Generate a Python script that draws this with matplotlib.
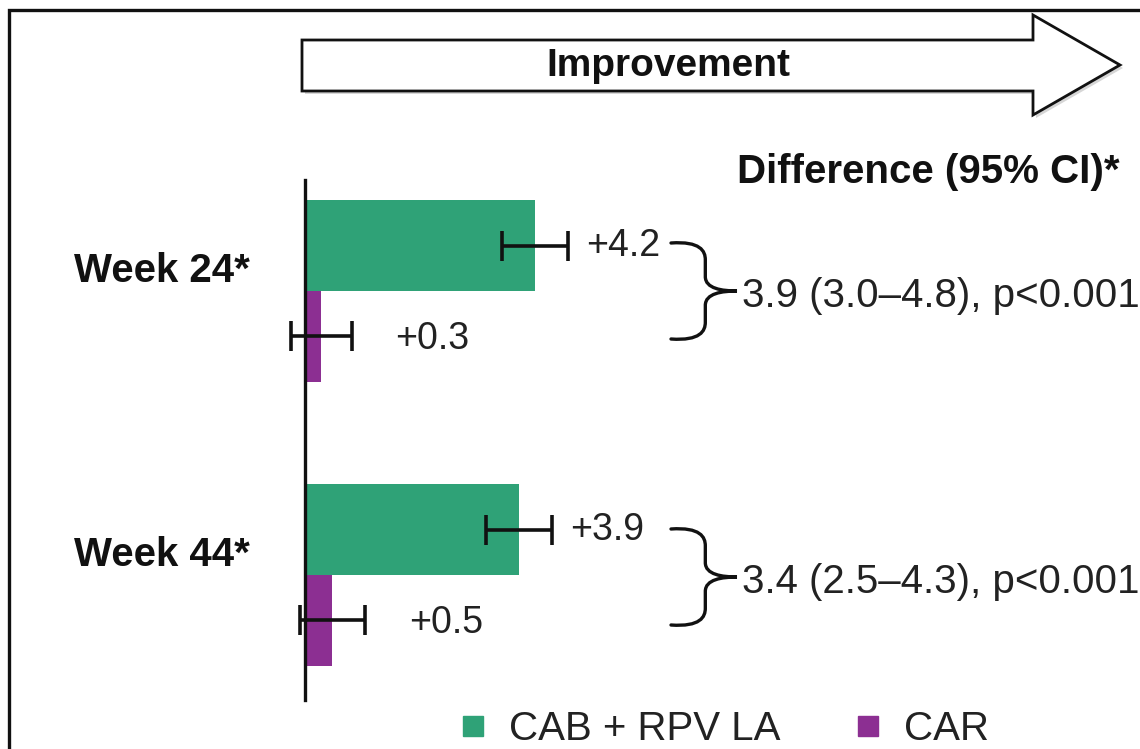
import matplotlib.pyplot as plt
from matplotlib.path import Path
from matplotlib.patches import PathPatch, Polygon
from matplotlib.lines import Line2D

# data
weeks = ["Week 24*", "Week 44*"]
cab_rpv = [4.2, 3.9]
cab_rpv_err = [0.6, 0.6]
car = [0.3, 0.5]
car_err = [0.55, 0.6]
diff = [3.9, 3.4]
diff_lo = [3.0, 2.5]
diff_hi = [4.8, 4.3]
p_text = ["p<0.001", "p<0.001"]
series_names = ["CAB + RPV LA", "CAR"]

GREEN = "#2fa277"
PURPLE = "#8c2f92"

W, H = 1140, 749
plt.rcParams['font.family'] = ['Liberation Sans', 'DejaVu Sans']
fig = plt.figure(figsize=(W / 100, H / 100), dpi=100)

# main bar axes: x=0 sits at pixel 305, 54.8 px per unit
zero_px, ppu = 305, 54.8
ax = fig.add_axes([0, 1 - 700 / H, 1, 520 / H])
ax.set_xlim(-zero_px / ppu, (W - zero_px) / ppu)
ax.set_ylim(1 + 125 / 284, -111 / 284)

ys = list(range(len(weeks)))
off, h = 0.16, 0.32
err_style = dict(ecolor="#111111", elinewidth=2.6, capsize=11, capthick=2.6)
ax.barh([y - off for y in ys], cab_rpv, height=h, color=GREEN,
        xerr=cab_rpv_err, error_kw=err_style)
ax.barh([y + off for y in ys], car, height=h, color=PURPLE,
        xerr=car_err, error_kw=err_style)

for y, v, e in zip(ys, cab_rpv, cab_rpv_err):
    ax.text(v + e + 0.33, y - off, f"+{v}", va="center", ha="left",
            fontsize=27, color="#222222")
for y, v, e in zip(ys, car, car_err):
    ax.text(v + e + 0.8, y + off + 0.01, f"+{v}", va="center", ha="left",
            fontsize=27, color="#222222")
for y, name in zip(ys, weeks):
    ax.text(-1.0, y - 0.07, name, va="center", ha="right",
            fontsize=29, fontweight="bold", color="#111111")

for s in ["top", "right", "bottom"]:
    ax.spines[s].set_visible(False)
ax.spines["left"].set_position(("data", 0))
ax.spines["left"].set_linewidth(2.4)
ax.spines["left"].set_color("#111111")
ax.set_xticks([])
ax.set_yticks([])
ax.patch.set_alpha(0)

# overlay in pixel coords for arrow, braces, frame
ov = fig.add_axes([0, 0, 1, 1])
ov.set_xlim(0, W)
ov.set_ylim(H, 0)
ov.axis("off")
ov.patch.set_alpha(0)

# frame (only top and left visible in the crop)
ov.plot([9, 9, W + 5], [H + 5, 10, 10], color="#111111", lw=2.4,
        solid_joinstyle="miter")

# block arrow
arrow_pts = [(302, 40), (1033, 40), (1033, 15), (1120, 65),
             (1033, 115), (1033, 91), (302, 91)]
shadow = Polygon([(x + 3, y + 3) for x, y in arrow_pts], closed=True,
                 facecolor="#bbbbbb", edgecolor="none", alpha=0.6)
ov.add_patch(shadow)
ov.add_patch(Polygon(arrow_pts, closed=True, facecolor="white",
                     edgecolor="#111111", lw=2.0))
ov.text(668, 66, "Improvement", ha="center", va="center", fontsize=28,
        fontweight="bold", color="#111111")

ov.text(928, 172, "Difference (95% CI)*", ha="center", va="center",
        fontsize=29, fontweight="bold", color="#111111")


def brace(x0, x1, yc, half):
    xm = x0 + 0.52 * (x1 - x0)
    t, b = yc - half, yc + half
    verts = [
        (x0, t),
        (xm - 5, t - 2), (xm, t + 8), (xm, t + 0.35 * half),
        (xm, yc - 0.3 * half),
        (xm, yc - 0.05 * half), (x1 - 15, yc), (x1, yc),
        (x1 - 15, yc), (xm, yc + 0.05 * half), (xm, yc + 0.3 * half),
        (xm, b - 0.35 * half),
        (xm, b - 8), (xm - 5, b + 2), (x0, b),
    ]
    codes = [Path.MOVETO,
             Path.CURVE4, Path.CURVE4, Path.CURVE4,
             Path.LINETO,
             Path.CURVE4, Path.CURVE4, Path.CURVE4,
             Path.CURVE4, Path.CURVE4, Path.CURVE4,
             Path.LINETO,
             Path.CURVE4, Path.CURVE4, Path.CURVE4]
    ov.add_patch(PathPatch(Path(verts, codes), facecolor="none",
                           edgecolor="#111111", lw=2.4, capstyle="round"))


group_px = [291, 577]
for yc, d, lo, hi, p in zip(group_px, diff, diff_lo, diff_hi, p_text):
    brace(671, 737, yc, 48)
    ov.text(742, yc + 5, f"{d} ({lo}\u2013{hi}), {p}", ha="left",
            va="center", fontsize=29, color="#222222")

handles = [Line2D([], [], ls="none", marker="s", markersize=14,
                  color=GREEN),
           Line2D([], [], ls="none", marker="s", markersize=14,
                  color=PURPLE)]
fig.legend(handles, series_names, loc="center",
           bbox_to_anchor=(726 / W, 1 - 729 / H), ncol=2, frameon=False,
           fontsize=29, handlelength=0.5, handletextpad=0.65,
           columnspacing=1.9, labelcolor="#222222")

fig.savefig("out.png", dpi=100)
